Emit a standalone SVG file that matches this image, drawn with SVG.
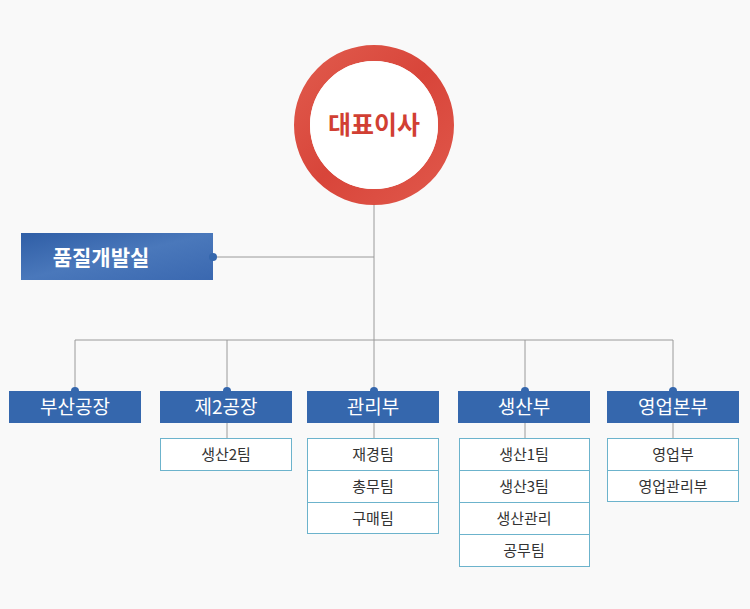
<svg xmlns="http://www.w3.org/2000/svg" width="750" height="609" viewBox="0 0 750 609">
<defs>
<style>
.ln{stroke:#9a9a9a;stroke-width:1;fill:none}
.hd{fill:#3567ad}
.ht{font-family:"Noto Sans CJK KR","Noto Sans",sans-serif;font-size:19px;fill:#fff;text-anchor:middle}
.sb{fill:#fff;stroke:#6cb3cc;stroke-width:1}
.st{font-family:"Noto Sans CJK KR","Noto Sans",sans-serif;font-size:15px;fill:#333;text-anchor:middle}
.dot{fill:#3567ad}
</style>
<linearGradient id="rg" x1="0" y1="0" x2="1" y2="1"><stop offset="0" stop-color="#e05a4c"/><stop offset="0.5" stop-color="#d8453a"/><stop offset="1" stop-color="#e0574a"/></linearGradient>
<linearGradient id="bg" x1="0" y1="0" x2="1" y2="1"><stop offset="0" stop-color="#2f5ea6"/><stop offset="0.5" stop-color="#4a78bb"/><stop offset="1" stop-color="#3a68b0"/></linearGradient>
</defs>
<rect width="750" height="609" fill="#f9f9f9"/>
<g id="connectors">
<path class="ln" d="M374 200V391M213 257H374M75 340H673M75 340V391M227 340V391M525 340V391M673 340V391M227 423V438M374 423V438M525 423V438M673 423V438"/>
</g>
<g id="ceo">
<circle cx="374" cy="125" r="72" fill="none" stroke="url(#rg)" stroke-width="16"/>
<circle cx="374" cy="125" r="64" fill="#fff"/>
<text x="374" y="134" font-family="'Noto Sans CJK KR',sans-serif" font-size="25" font-weight="bold" fill="#d13f33" text-anchor="middle">대표이사</text>
</g>
<g id="qa">
<rect x="21" y="233" width="192" height="47" fill="url(#bg)"/>
<circle class="dot" cx="213" cy="257" r="4"/>
<text x="101" y="265" font-family="'Noto Sans CJK KR',sans-serif" font-size="21" font-weight="bold" fill="#fff" text-anchor="middle">품질개발실</text>
</g>
<g id="busan">
<rect class="hd" x="9" y="391" width="132" height="32"/><circle class="dot" cx="75" cy="391" r="4"/>
<text class="ht" x="75" y="414">부산공장</text>
</g>
<g id="plant2">
<rect class="hd" x="160" y="391" width="132" height="32"/><circle class="dot" cx="227" cy="391" r="4"/>
<text class="ht" x="226" y="414">제2공장</text>
<rect class="sb" x="160.5" y="438.5" width="131" height="32"/><text class="st" x="226" y="460">생산2팀</text>
</g>
<g id="admin">
<rect class="hd" x="307" y="391" width="132" height="32"/><circle class="dot" cx="374" cy="391" r="4"/>
<text class="ht" x="373" y="414">관리부</text>
<rect class="sb" x="307.5" y="438.5" width="131" height="32"/><text class="st" x="373" y="460">재경팀</text>
<rect class="sb" x="307.5" y="470.5" width="131" height="32"/><text class="st" x="373" y="492">총무팀</text>
<rect class="sb" x="307.5" y="502.5" width="131" height="31"/><text class="st" x="373" y="524">구매팀</text>
</g>
<g id="prod">
<rect class="hd" x="458" y="391" width="132" height="32"/><circle class="dot" cx="525" cy="391" r="4"/>
<text class="ht" x="524" y="414">생산부</text>
<rect class="sb" x="459.5" y="438.5" width="130" height="32"/><text class="st" x="524" y="460">생산1팀</text>
<rect class="sb" x="459.5" y="470.5" width="130" height="32"/><text class="st" x="524" y="492">생산3팀</text>
<rect class="sb" x="459.5" y="502.5" width="130" height="32"/><text class="st" x="524" y="524">생산관리</text>
<rect class="sb" x="459.5" y="534.5" width="130" height="32"/><text class="st" x="524" y="556">공무팀</text>
</g>
<g id="sales">
<rect class="hd" x="607" y="391" width="132" height="32"/><circle class="dot" cx="673" cy="391" r="4"/>
<text class="ht" x="673" y="414">영업본부</text>
<rect class="sb" x="607.5" y="438.5" width="131" height="32"/><text class="st" x="673" y="460">영업부</text>
<rect class="sb" x="607.5" y="470.5" width="131" height="31"/><text class="st" x="673" y="492">영업관리부</text>
</g>
</svg>
